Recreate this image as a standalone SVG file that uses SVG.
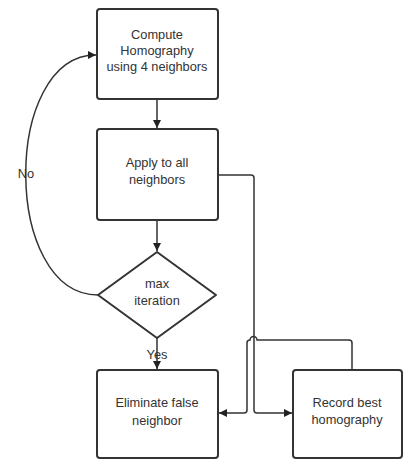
<svg xmlns="http://www.w3.org/2000/svg" width="405" height="459" viewBox="0 0 405 459">
<defs>
<style>
.node{fill:#fff;stroke:#333;stroke-width:2}
.lbl{font-family:"Liberation Sans",Arial,sans-serif;font-size:12.8px;fill:#333;text-anchor:middle}
.edge{fill:none;stroke:#333;stroke-width:1.5}
</style>
<marker id="arr" viewBox="0 0 10 10" refX="10" refY="5" markerWidth="8" markerHeight="8" markerUnits="userSpaceOnUse" orient="auto">
<path d="M0,0 L10,5 L0,10 z" fill="#222"/>
</marker>
</defs>
<rect width="405" height="459" fill="#fff"/>
<g id="connectors">
<path class="edge" d="M157,99 V128" marker-end="url(#arr)"/>
<path class="edge" d="M157,220 V251" marker-end="url(#arr)"/>
<path class="edge" d="M157,338 V369" marker-end="url(#arr)"/>
<path class="edge" d="M98,295 C2,295 2,55 96,55" marker-end="url(#arr)"/>
<path class="edge" d="M218,175 H251 Q254,175 254,178 V410 Q254,413 257,413 H292" marker-end="url(#arr)"/>
<path class="edge" d="M352,370 V343 Q352,340 349,340 H257 A3.5,3.5 0 0 0 250,340 Q247,340 247,343 V410 Q247,413 244,413 H219" marker-end="url(#arr)"/>
</g>
<g id="compute">
<rect class="node" x="97" y="9" width="121" height="90" rx="3"/>
<text class="lbl" x="157" y="39">Compute</text>
<text class="lbl" x="157" y="55">Homography</text>
<text class="lbl" x="157" y="71">using 4 neighbors</text>
</g>
<g id="apply">
<rect class="node" x="97" y="129" width="121" height="91" rx="3"/>
<text class="lbl" x="157" y="167">Apply to all</text>
<text class="lbl" x="157" y="184">neighbors</text>
</g>
<g id="maxiter">
<path class="node" d="M157,252 L216,295 L157,338 L98,295 Z" stroke-linejoin="round"/>
<text class="lbl" x="157" y="288">max</text>
<text class="lbl" x="157" y="305">iteration</text>
</g>
<g id="eliminate">
<rect class="node" x="97" y="370" width="121" height="88" rx="3"/>
<text class="lbl" x="157" y="407">Eliminate false</text>
<text class="lbl" x="157" y="425">neighbor</text>
</g>
<g id="record">
<rect class="node" x="293" y="370" width="109" height="88" rx="3"/>
<text class="lbl" x="347" y="407">Record best</text>
<text class="lbl" x="347" y="424">homography</text>
</g>
<g id="labels">
<text class="lbl" x="26" y="178">No</text>
<text class="lbl" x="157" y="359">Yes</text>
</g>
</svg>
